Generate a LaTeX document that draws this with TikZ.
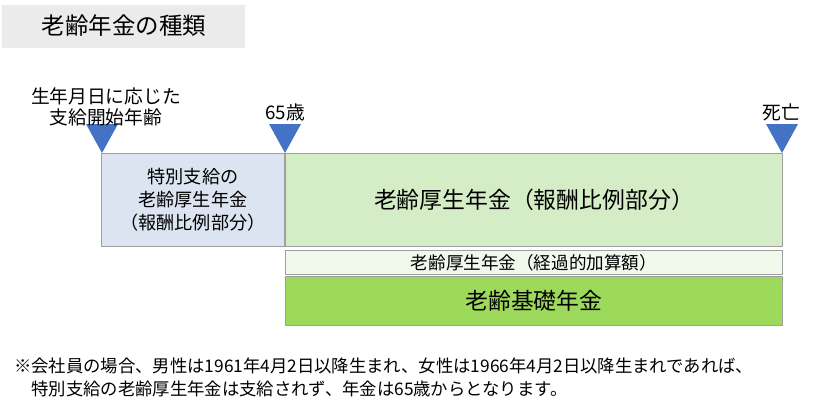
\documentclass[tikz,border=0pt]{standalone}
\usepackage{fontspec}
\setmainfont{Noto Sans CJK JP}
\definecolor{titlegray}{HTML}{EBEBEB}
\definecolor{markblue}{HTML}{4472C4}
\definecolor{paleblue}{HTML}{DCE4F1}
\definecolor{palegreen}{HTML}{D5EDC6}
\definecolor{whitegreen}{HTML}{F1F8EC}
\definecolor{basegreen}{HTML}{9DDA5C}
\tikzset{
    pensionbox/.style={draw=gray!75, line width=0.8pt, anchor=north west,
        inner sep=0pt, align=center},
    agelabel/.style={align=center, font=\fontsize{16}{18}\selectfont}
}
\begin{document}
\begin{tikzpicture}[x=0.03cm, y=-0.03cm]
        \useasboundingbox (0,0) rectangle (830,412);

        % title
        \fill[titlegray] (2,5) rectangle (245,48);
        \node[font=\fontsize{20}{22}\selectfont] (title) at (124,26) {老齢年金の種類};

        % age markers
        \foreach \x in {102,285,782} {
            \fill[markblue] (\x-16,124) -- (\x+16,124) -- (\x,153) -- cycle;
        }
        \node[agelabel] (start) at (106,107) {生年月日に応じた\\支給開始年齢};
        \node[agelabel] (age65) at (285,112) {65歳};
        \node[agelabel] (death) at (781,112) {死亡};

        % pension boxes
        \node[pensionbox, fill=paleblue, minimum width=5.49cm, minimum height=2.79cm,
            font=\fontsize{15.5}{19.5}\selectfont] (special) at (101,153)
            {特別支給の\\老齢厚生年金\\（報酬比例部分）};
        \node[pensionbox, fill=palegreen, minimum width=14.91cm, minimum height=2.79cm,
            font=\fontsize{19.5}{22}\selectfont] (employee) at (285,153)
            {老齢厚生年金（報酬比例部分）};
        \node[pensionbox, fill=whitegreen, minimum width=14.91cm, minimum height=0.72cm,
            font=\fontsize{15}{17}\selectfont] (transition) at (285,250)
            {老齢厚生年金（経過的加算額）};
        \node[pensionbox, fill=basegreen, minimum width=14.91cm, minimum height=1.47cm,
            font=\fontsize{19.5}{22}\selectfont] (basic) at (285,276)
            {老齢基礎年金};

        % note
        \node[anchor=west, align=left, font=\fontsize{14.8}{19.5}\selectfont] (note) at (10,377)
            {※会社員の場合、男性は1961年4月2日以降生まれ、女性は1966年4月2日以降生まれであれば、\\
             \hspace{1em}特別支給の老齢厚生年金は支給されず、年金は65歳からとなります。};
    \end{tikzpicture}
\end{document}
